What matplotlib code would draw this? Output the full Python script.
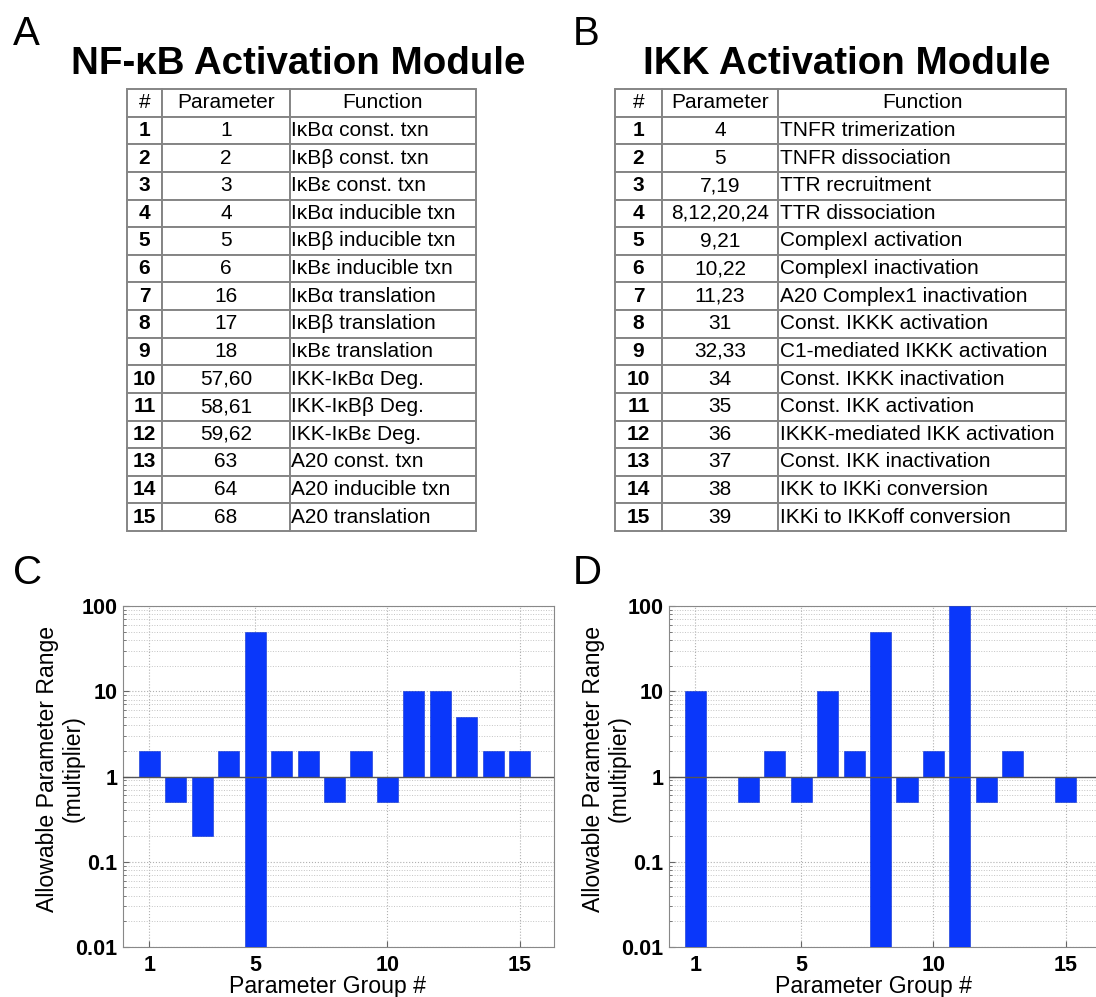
import matplotlib
matplotlib.use("Agg")
import matplotlib.pyplot as plt
from matplotlib.table import Table
from matplotlib.ticker import LogLocator, NullFormatter, FixedLocator

plt.rcParams["font.family"] = ["Liberation Sans", "DejaVu Sans"]

# ──────────────────────────────────────────────────────────────
#  Data
# ──────────────────────────────────────────────────────────────
HEADERS = ["#", "Parameter", "Function"]

NFKB_PARAMS = ["1", "2", "3", "4", "5", "6", "16", "17", "18",
               "57,60", "58,61", "59,62", "63", "64", "68"]
NFKB_FUNCS = ["IκBα const. txn", "IκBβ const. txn", "IκBε const. txn",
              "IκBα inducible txn", "IκBβ inducible txn", "IκBε inducible txn",
              "IκBα translation", "IκBβ translation", "IκBε translation",
              "IKK-IκBα Deg.", "IKK-IκBβ Deg.", "IKK-IκBε Deg.",
              "A20 const. txn", "A20 inducible txn", "A20 translation"]

IKK_PARAMS = ["4", "5", "7,19", "8,12,20,24", "9,21", "10,22", "11,23", "31",
              "32,33", "34", "35", "36", "37", "38", "39"]
IKK_FUNCS = ["TNFR trimerization", "TNFR dissociation", "TTR recruitment",
             "TTR dissociation", "ComplexI activation", "ComplexI inactivation",
             "A20 Complex1 inactivation", "Const. IKKK activation",
             "C1-mediated IKKK activation", "Const. IKKK inactivation",
             "Const. IKK activation", "IKKK-mediated IKK activation",
             "Const. IKK inactivation", "IKK to IKKi conversion",
             "IKKi to IKKoff conversion"]

GROUPS = list(range(1, 16))
# allowable range of each parameter group: [low, high] multiplier
NFKB_LOW = [1, 0.5, 0.2, 1, 0.01, 1, 1, 0.5, 1, 0.5, 1, 1, 1, 1, 1]
NFKB_HIGH = [2, 1, 1, 2, 50, 2, 2, 1, 2, 1, 10, 10, 5, 2, 2]
IKK_LOW = [0.01, 1, 0.5, 1, 0.5, 1, 1, 0.01, 0.5, 1, 0.01, 0.5, 1, 1, 0.5]
IKK_HIGH = [10, 1, 1, 2, 1, 10, 2, 50, 1, 2, 100, 1, 2, 1, 1]

BAR_COLOR = "#0a37fa"
EDGE = "#858585"

W, H = 1096, 997
fig = plt.figure(figsize=(W / 100, H / 100), dpi=100)


def _px_axes(left, top, right, bottom):
    """Axes placed by pixel box (top-left origin)."""
    return fig.add_axes([left / W, 1 - bottom / H, (right - left) / W, (bottom - top) / H])


def _draw_table(ax, params, funcs, col_px):
    ax.axis("off")
    total = sum(col_px)
    widths = [c / total for c in col_px]
    nrows = len(params) + 1
    h = 1.0 / nrows
    tb = Table(ax, bbox=[0, 0, 1, 1])
    for c, name in enumerate(HEADERS):
        tb.add_cell(0, c, widths[c], h, text=name, loc="center", edgecolor=EDGE)
    for r, (p, f) in enumerate(zip(params, funcs), start=1):
        cells = [
            tb.add_cell(r, 0, widths[0], h, text=str(r), loc="center", edgecolor=EDGE),
            tb.add_cell(r, 1, widths[1], h, text=p, loc="center", edgecolor=EDGE),
            tb.add_cell(r, 2, widths[2], h, text=f, loc="left", edgecolor=EDGE),
        ]
        cells[0].set_text_props(weight="bold")
        cells[2].PAD = 0.008
    tb.auto_set_font_size(False)
    tb.set_fontsize(15)
    for cell in tb.get_celld().values():
        cell.set_linewidth(1.4)
    ax.add_table(tb)


def _draw_bars(ax, low, high):
    heights = [hi - lo for lo, hi in zip(low, high)]
    ax.bar(GROUPS, heights, bottom=low, width=0.8, color=BAR_COLOR,
           edgecolor="#0a2fd0", linewidth=0.4, zorder=3)
    ax.set_yscale("log")
    ax.set_ylim(0.01, 100)
    ax.set_xlim(0, 16.3)
    ax.axhline(1, color="#555555", lw=1.0, zorder=4)
    ax.xaxis.set_major_locator(FixedLocator([1, 5, 10, 15]))
    ax.yaxis.set_major_locator(FixedLocator([0.01, 0.1, 1, 10, 100]))
    ax.set_yticklabels(["0.01", "0.1", "1", "10", "100"])
    ax.yaxis.set_minor_locator(LogLocator(base=10, subs=range(2, 10)))
    ax.yaxis.set_minor_formatter(NullFormatter())
    ax.grid(True, which="major", axis="both", ls=":", color="#b0b0b0", lw=0.8, zorder=0)
    ax.grid(True, which="minor", axis="y", ls=":", color="#c4c4c4", lw=0.7, zorder=0)
    ax.tick_params(which="both", direction="in", length=4, color="#666666")
    ax.tick_params(which="minor", length=2)
    for lab in ax.get_xticklabels() + ax.get_yticklabels():
        lab.set_fontweight("bold")
        lab.set_fontsize(15.5)
    ax.tick_params(axis="x", pad=6)
    ax.tick_params(axis="y", pad=4)
    for sp in ax.spines.values():
        sp.set_color("#888888")
    ax.set_ylabel("Allowable Parameter Range\n(multiplier)", fontsize=16.6,
                  linespacing=1.15)
    ax.yaxis.set_label_coords(-0.088, 0.523)
    ax.set_xlabel("Parameter Group #", fontsize=16.6, labelpad=0)
    ax.xaxis.set_label_coords(0.475, -0.081)


# ──────────────────────────────────────────────────────────────
#  Panels A / B — tables
# ──────────────────────────────────────────────────────────────
ax_a = _px_axes(127, 89, 476, 531)
_draw_table(ax_a, NFKB_PARAMS, NFKB_FUNCS, [35, 128, 186])
ax_b = _px_axes(615, 89, 1066, 531)
_draw_table(ax_b, IKK_PARAMS, IKK_FUNCS, [47, 116, 288])

fig.text(298 / W, 1 - 64 / H, "NF-κB Activation Module", fontsize=27.7, weight="bold",
         ha="center", va="center")
fig.text(847 / W, 1 - 64 / H, "IKK Activation Module", fontsize=27.7, weight="bold",
         ha="center", va="center")

# ──────────────────────────────────────────────────────────────
#  Panels C / D — allowable ranges
# ──────────────────────────────────────────────────────────────
ax_c = _px_axes(123, 606, 554, 947)
_draw_bars(ax_c, NFKB_LOW, NFKB_HIGH)
ax_d = _px_axes(669, 606, 1100, 947)
_draw_bars(ax_d, IKK_LOW, IKK_HIGH)

for label, x, y in [("A", 13, 34), ("B", 573, 34), ("C", 13, 573), ("D", 573, 573)]:
    fig.text(x / W, 1 - y / H, label, fontsize=29, ha="left", va="center")

fig.savefig("out.png", dpi=100)
